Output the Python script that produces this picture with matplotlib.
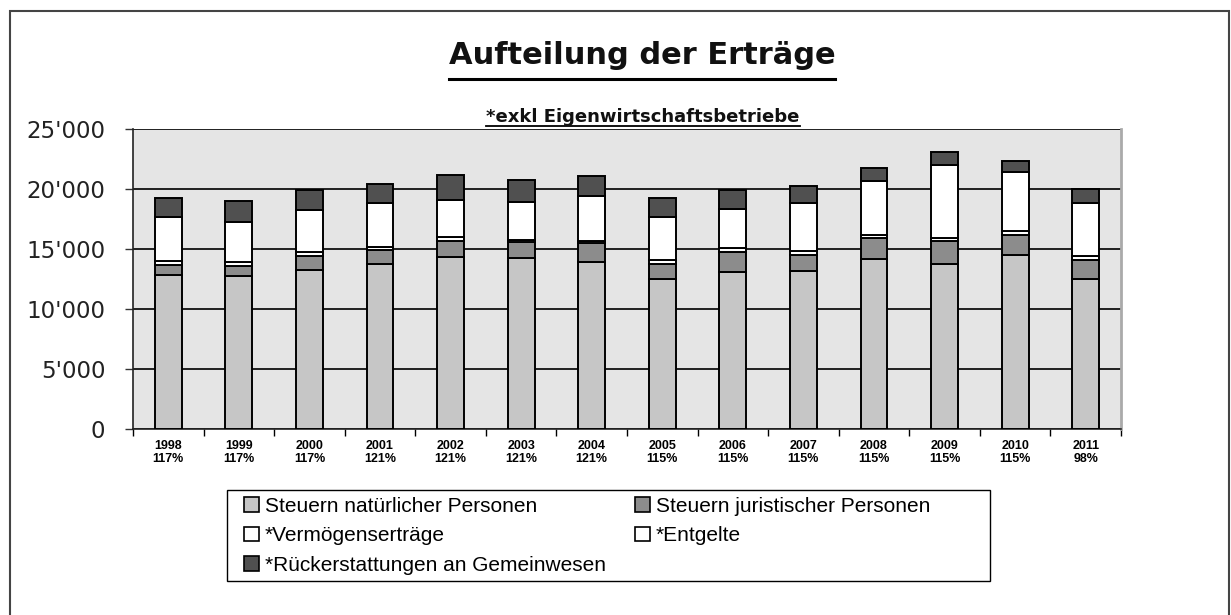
import numpy as np
import matplotlib.pyplot as plt
from matplotlib.patches import Rectangle
from matplotlib.lines import Line2D
from matplotlib.ticker import FuncFormatter

# Aufteilung der Ertraege, stacked bars per year

years = ['1998', '1999', '2000', '2001', '2002', '2003', '2004',
         '2005', '2006', '2007', '2008', '2009', '2010', '2011']
pct = ['117%', '117%', '117%', '121%', '121%', '121%', '121%',
       '115%', '115%', '115%', '115%', '115%', '115%', '98%']

nat = [12860, 12720, 13275, 13775, 14330, 14250, 13880,
       12500, 13050, 13135, 14165, 13775, 14525, 12500]
jur = [770, 890, 1165, 1165, 1305, 1300, 1620,
       1250, 1670, 1390, 1745, 1915, 1665, 1610]
verm = [395, 270, 280, 225, 335, 225, 190,
        360, 330, 335, 280, 225, 280, 330]
entg = [3605, 3340, 3555, 3665, 3140, 3110, 3695,
        3520, 3310, 3970, 4445, 6055, 4915, 4390]
rueck = [1620, 1805, 1665, 1585, 2025, 1835, 1665,
         1620, 1525, 1390, 1115, 1140, 915, 1195]

labels = ['Steuern natürlicher Personen', 'Steuern juristischer Personen',
          '*Vermögenserträge', '*Entgelte', '*Rückerstattungen an Gemeinwesen']
colors = ['#c6c6c6', '#8c8c8c', '#ffffff', '#ffffff', '#505050']

W, H = 1231, 615
fig = plt.figure(figsize=(W / 100, H / 100), dpi=100)
fig.patch.set_facecolor('white')

# outer frame of the scanned page
fig.add_artist(Rectangle((10 / W, -0.02), 1219 / W, 1 - 11 / H + 0.02,
                         transform=fig.transFigure, fill=False,
                         edgecolor='#444444', linewidth=1.5))

ax = fig.add_axes([133 / W, 1 - 429 / H, (1121 - 133) / W, (429 - 129) / H])
ax.set_facecolor('#e5e5e5')

x = np.arange(len(years))
series = [nat, jur, verm, entg, rueck]
bottom = np.zeros(len(years))
handles = []
for vals, col, lab in zip(series, colors, labels):
    ax.bar(x, vals, bottom=bottom, width=0.38, color=col,
           edgecolor='black', linewidth=1.4, zorder=3)
    bottom += np.array(vals)
    handles.append(Rectangle((0, 0), 1, 1, facecolor=col, edgecolor='black', linewidth=1.2))

ax.set_xlim(-0.5, len(years) - 0.5)
ax.set_ylim(0, 25000)
ax.set_yticks(range(0, 25001, 5000))
ax.yaxis.set_major_formatter(FuncFormatter(lambda v, p: f"{int(v):,}".replace(',', "'")))
ax.grid(axis='y', color='#111111', linewidth=1.3, zorder=1)
ax.set_axisbelow(True)

ax.set_xticks(x)
ax.set_xticklabels([f"{y}\n{p}" for y, p in zip(years, pct)],
                   fontsize=9, fontweight='bold', family='Liberation Sans',
                   linespacing=1.1)
ax.tick_params(axis='x', length=0, pad=8)
ax.set_xticks(np.arange(-0.5, len(years), 1), minor=True)
ax.tick_params(axis='x', which='minor', length=5, width=1, color='black')
ax.tick_params(axis='y', length=6, width=1, labelsize=16.5, pad=14, color='#333333')
for t in ax.get_yticklabels():
    t.set_family('DejaVu Sans')
    t.set_color('#222222')

ax.spines['top'].set_visible(False)
ax.spines['right'].set_color('#aaaaaa')
ax.spines['right'].set_linewidth(2)
ax.spines['left'].set_color('#222222')
ax.spines['left'].set_linewidth(1.2)
ax.spines['bottom'].set_color('#222222')
ax.spines['bottom'].set_linewidth(1.2)

# title and subtitle, underlined
t1 = fig.text(642 / W, 1 - 64 / H, 'Aufteilung der Erträge', ha='center', va='baseline',
              fontsize=22, fontweight='bold', family='DejaVu Sans', color='#111111')
t2 = fig.text(643 / W, 1 - 122 / H, '*exkl Eigenwirtschaftsbetriebe', ha='center', va='baseline',
              fontsize=13, fontweight='bold', family='DejaVu Sans', color='#111111')
fig.canvas.draw()
r = fig.canvas.get_renderer()
for t, ypx, lw in [(t1, 79, 2.2), (t2, 126, 1.3)]:
    bb = t.get_window_extent(r)
    fig.add_artist(Line2D([bb.x0 / W, bb.x1 / W], [1 - ypx / H, 1 - ypx / H],
                          transform=fig.transFigure, color='black', linewidth=lw))

# legend box drawn separately, entries in row-major order like the reference
fig.add_artist(Rectangle((227 / W, 1 - 581 / H), (990 - 227) / W, (581 - 490) / H,
                         transform=fig.transFigure, fill=False,
                         edgecolor='black', linewidth=1.0))
order = [0, 2, 4, 1, 3]
leg = fig.legend([handles[i] for i in order], [labels[i] for i in order],
                 loc='upper left', ncol=2, bbox_to_anchor=(244 / W, 1 - 497 / H),
                 frameon=False, borderaxespad=0, borderpad=0,
                 prop={'family': 'Liberation Sans', 'size': 15},
                 handlelength=0.7, handleheight=0.7, handletextpad=0.3,
                 labelspacing=0.5, columnspacing=1.4)

fig.savefig('out.png', dpi=100)
